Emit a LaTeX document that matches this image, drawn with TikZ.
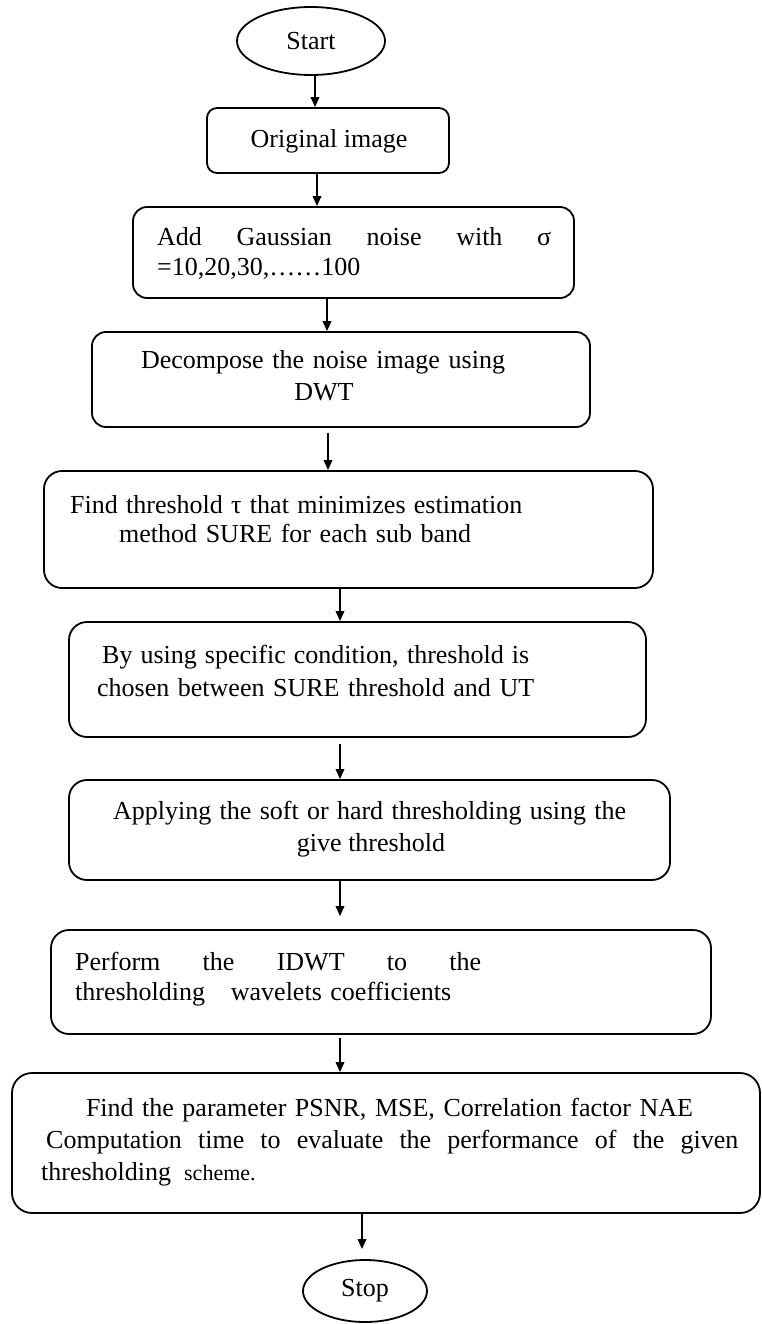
\documentclass[tikz,border=0pt]{standalone}
\usepackage{fontspec}
\setmainfont{Liberation Serif}
\usetikzlibrary{shapes.geometric,arrows.meta}
% one line of text spread to a given width
\newcommand{\fitline}[2]{\makebox[#1][s]{#2}}
\begin{document}
\begin{tikzpicture}[x=1pt,y=-1pt,
  font=\fontsize{26}{30}\selectfont,
  box/.style={draw, line width=1.8pt, rounded corners=14pt, inner sep=0pt},
  term/.style={draw, ellipse, line width=1.8pt, inner sep=0pt},
  txt/.style={inner sep=0pt},
  arr/.style={line width=1.8pt, -{Triangle[length=10pt,width=8.5pt]}}]

\fill[white] (0,0) rectangle (761,1324);
\useasboundingbox (0,0) rectangle (761,1324);

% terminals
\node[term, minimum width=148pt, minimum height=68pt] (start) at (311,41) {Start};
\node[term, minimum width=124pt, minimum height=62pt] (stop) at (365,1291) {Stop};

% process boxes
\node[box, rounded corners=10pt, minimum width=242pt, minimum height=65pt] (orig) at (328,140.5) {};
\node[box, minimum width=441pt, minimum height=91pt] (add) at (353.5,252.5) {};
\node[box, minimum width=498pt, minimum height=95pt] (dec) at (341,379.5) {};
\node[box, rounded corners=18pt, minimum width=609pt, minimum height=117pt] (find) at (348.5,529.5) {};
\node[box, rounded corners=18pt, minimum width=577pt, minimum height=115pt] (byus) at (357.5,679.5) {};
\node[box, rounded corners=18pt, minimum width=601pt, minimum height=100pt] (appl) at (369.5,830) {};
\node[box, rounded corners=18pt, minimum width=660pt, minimum height=104pt] (perf) at (381,982) {};
\node[box, rounded corners=20pt, minimum width=748pt, minimum height=140pt] (param) at (386,1143) {};

% box texts
\node[txt, anchor=base] (orig-t) at (329,148) {Original image};

\node[txt, anchor=base west] (add-a) at (157,246) {\fitline{394pt}{Add Gaussian noise with σ}};
\node[txt, anchor=base west] (add-b) at (157,276) {=10,20,30,……100};

\node[txt, anchor=base] (dec-a) at (323,368) {\fitline{364pt}{Decompose the noise image using}};
\node[txt, anchor=base] (dec-b) at (324,400) {DWT};

\node[txt, anchor=base west] (find-a) at (70,513) {\fitline{452pt}{Find threshold τ that minimizes estimation}};
\node[txt, anchor=base west] (find-b) at (119,542) {\fitline{352pt}{method SURE for each sub band}};

\node[txt, anchor=base west] (byus-a) at (102,663) {\fitline{427pt}{By using specific condition, threshold is}};
\node[txt, anchor=base west] (byus-b) at (97,696) {\fitline{437pt}{chosen between SURE threshold and UT}};

\node[txt, anchor=base west] (appl-a) at (113,819) {\fitline{513pt}{Applying the soft or hard thresholding using the}};
\node[txt, anchor=base] (appl-b) at (371,851) {give threshold};

\node[txt, anchor=base west] (perf-a) at (75,970) {\fitline{406pt}{Perform the IDWT to the}};
\node[txt, anchor=base west] (perf-b) at (75,1000) {\fitline{376pt}{thresholding\ \ \ wavelets coefficients}};

\node[txt, anchor=base] (param-a) at (389.5,1116) {\fitline{607pt}{Find the parameter PSNR, MSE, Correlation factor NAE}};
\node[txt, anchor=base west] (param-b) at (46,1148) {\fitline{692pt}{Computation time to evaluate the performance of the given}};
\node[txt, anchor=base west] (param-c) at (41,1180) {thresholding\ \ {\fontsize{22}{26}\selectfont scheme.}};

% arrow columns
\coordinate (c1) at (315,0);
\coordinate (c2) at (317,0);
\coordinate (c3) at (327,0);
\coordinate (c4) at (328,0);
\coordinate (c5) at (340,0);
\coordinate (c6) at (362,0);

% connectors
\draw[arr] (start.south -| c1) -- (orig.north -| c1);
\draw[arr] (orig.south -| c2) -- (add.north -| c2);
\draw[arr] (add.south -| c3) -- (dec.north -| c3);
\draw[arr, shorten <=5pt] (dec.south -| c4) -- (find.north -| c4);
\draw[arr] (find.south -| c5) -- (byus.north -| c5);
\draw[arr, shorten <=6pt] (byus.south -| c5) -- (appl.north -| c5);
\draw[arr, shorten >=13pt] (appl.south -| c5) -- (perf.north -| c5);
\draw[arr, shorten <=3pt] (perf.south -| c5) -- (param.north -| c5);
\draw[arr, shorten >=10pt] (param.south -| c6) -- (stop.north -| c6);
\end{tikzpicture}
\end{document}
